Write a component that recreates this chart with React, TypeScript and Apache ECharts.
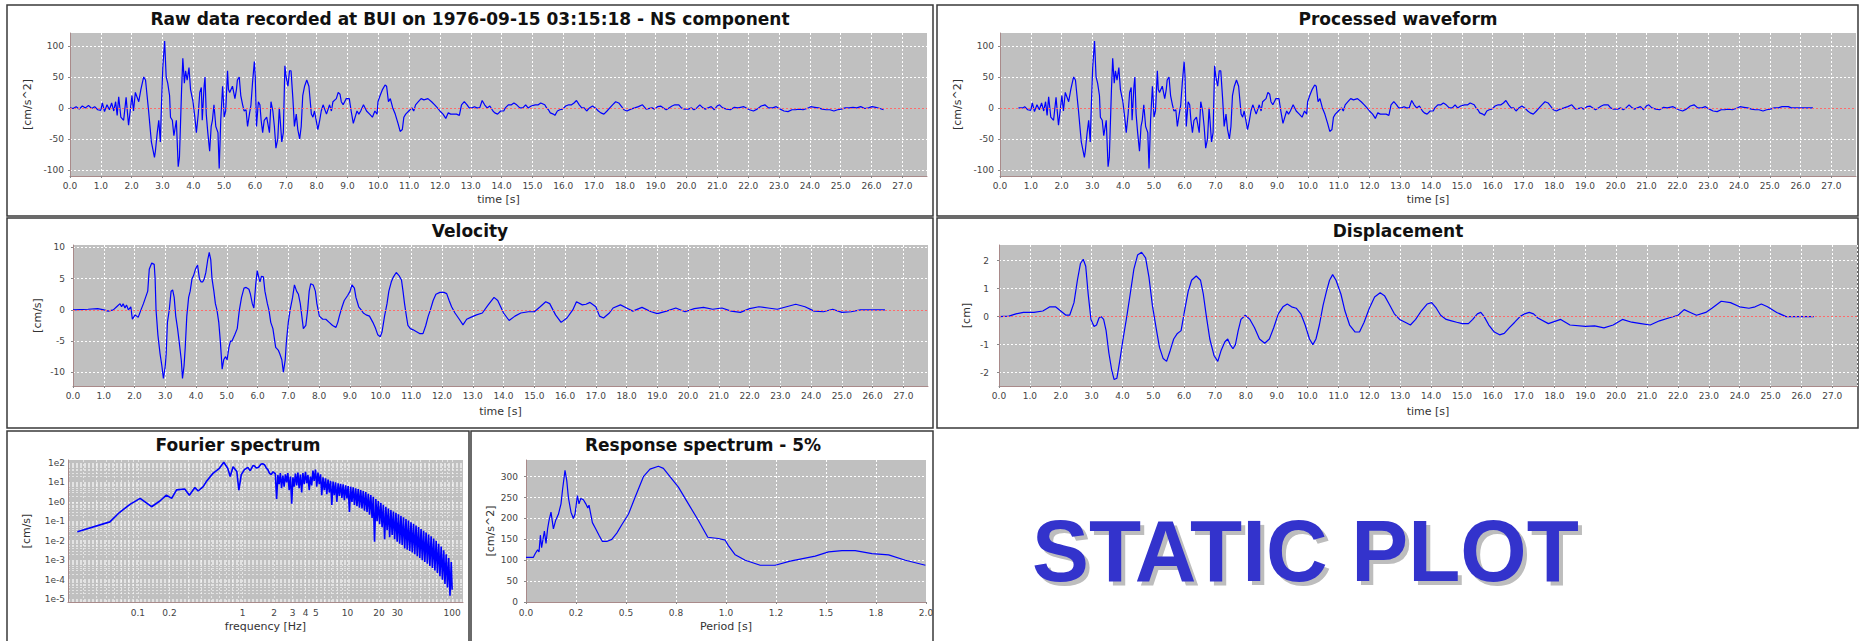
import React, { useEffect, useRef } from "react";
import * as echarts from "echarts";

// ---------------- DATA ----------------
const rawAccel: [number, number][] = [
  [0,0],[0.1,-1],[0.2,2],[0.3,-2],[0.4,3],[0.5,0],[0.6,4],[0.7,-1],[0.8,2],[0.9,-3],[1.0,-4],[1.05,8],[1.12,-6],[1.2,5],[1.28,-3],[1.35,8],[1.42,-5],[1.48,10],[1.53,-12],[1.58,18],[1.65,-15],[1.74,-20],[1.82,17],[1.9,-28],[2.01,20],[2.06,-5],[2.12,25],[2.23,10],[2.3,30],[2.39,50],[2.45,45],[2.5,20],[2.55,-5],[2.64,-55],[2.74,-80],[2.77,-70],[2.83,-40],[2.88,-20],[2.93,-55],[2.97,10],[3.01,65],[3.07,108],[3.12,50],[3.17,40],[3.23,20],[3.26,-15],[3.32,-20],[3.37,-45],[3.45,-20],[3.51,-95],[3.55,-80],[3.62,30],[3.66,80],[3.71,40],[3.75,60],[3.8,45],[3.86,65],[3.91,30],[3.99,10],[4.05,-15],[4.1,-40],[4.16,-10],[4.21,25],[4.26,33],[4.29,-20],[4.35,35],[4.38,50],[4.42,-10],[4.47,-40],[4.53,-70],[4.58,-30],[4.62,-20],[4.67,5],[4.73,-30],[4.8,-40],[4.84,-98],[4.89,-20],[4.95,35],[4.98,10],[5.0,-15],[5.05,-5],[5.11,60],[5.14,30],[5.18,25],[5.27,35],[5.35,15],[5.4,30],[5.43,45],[5.49,50],[5.54,20],[5.6,5],[5.65,-5],[5.71,-3],[5.76,-30],[5.82,-10],[5.87,5],[5.92,40],[5.98,75],[6.01,50],[6.05,-30],[6.11,10],[6.16,5],[6.2,-20],[6.25,-40],[6.3,-20],[6.38,-15],[6.47,-40],[6.52,10],[6.58,-5],[6.63,-30],[6.68,-65],[6.74,-50],[6.79,0],[6.82,-20],[6.87,-55],[6.92,-40],[6.97,68],[7.01,50],[7.07,35],[7.12,60],[7.17,60],[7.23,15],[7.28,-30],[7.34,-10],[7.39,-35],[7.45,-50],[7.5,-30],[7.55,20],[7.61,35],[7.68,45],[7.75,35],[7.83,-10],[7.88,-15],[7.93,-5],[8.04,-35],[8.1,-20],[8.15,-5],[8.21,5],[8.32,-10],[8.42,5],[8.48,-5],[8.53,10],[8.64,15],[8.7,25],[8.76,22],[8.8,10],[8.86,5],[8.91,10],[8.96,15],[9.06,15],[9.12,-5],[9.19,-25],[9.25,-15],[9.31,-5],[9.37,-10],[9.43,-5],[9.52,5],[9.62,-5],[9.72,-10],[9.81,-15],[9.89,-5],[9.96,-10],[9.99,10],[10.06,20],[10.14,30],[10.22,37],[10.27,35],[10.33,10],[10.39,15],[10.47,0],[10.55,-10],[10.64,-25],[10.71,-38],[10.78,-35],[10.83,-15],[10.89,-10],[10.99,-5],[11.09,0],[11.15,-5],[11.21,5],[11.3,10],[11.39,15],[11.48,13],[11.61,15],[11.73,10],[11.83,5],[11.92,0],[12.0,-5],[12.1,-10],[12.19,-17],[12.27,-8],[12.35,-10],[12.45,-10],[12.54,-10],[12.63,-12],[12.7,5],[12.79,10],[12.88,5],[12.95,0],[13.04,0],[13.12,2],[13.2,0],[13.29,0],[13.37,12],[13.45,5],[13.53,0],[13.62,3],[13.72,-5],[13.78,-8],[13.87,-10],[13.97,-5],[14.07,-5],[14.12,0],[14.22,5],[14.32,5],[14.4,8],[14.49,5],[14.59,0],[14.69,0],[14.78,5],[14.86,0],[14.96,3],[15.09,5],[15.19,5],[15.27,8],[15.4,5],[15.46,0],[15.52,-3],[15.58,-8],[15.68,-10],[15.73,-12],[15.81,-5],[15.89,-3],[15.98,-2],[16.08,3],[16.18,5],[16.27,5],[16.35,8],[16.43,12],[16.52,5],[16.6,0],[16.68,0],[16.76,-5],[16.85,0],[16.95,3],[17.04,0],[17.14,-5],[17.22,-8],[17.32,-10],[17.42,-5],[17.51,0],[17.6,5],[17.7,10],[17.8,8],[17.88,3],[17.97,-3],[18.07,-5],[18.19,-2],[18.32,0],[18.44,2],[18.57,5],[18.69,-2],[18.88,0],[18.96,-2],[19.06,2],[19.16,3],[19.25,0],[19.34,-3],[19.43,0],[19.53,3],[19.62,5],[19.75,5],[19.83,0],[19.93,-2],[20.06,-2],[20.16,0],[20.24,-3],[20.33,0],[20.43,5],[20.53,0],[20.61,-2],[20.7,0],[20.8,2],[20.9,-3],[20.99,3],[21.07,5],[21.17,0],[21.3,-2],[21.42,-3],[21.55,1],[21.67,0],[21.86,2],[22.04,-3],[22.17,-5],[22.29,-2],[22.42,3],[22.54,5],[22.66,0],[22.79,0],[22.91,2],[23.04,-2],[23.16,-5],[23.29,-6],[23.42,-3],[23.53,-3],[23.66,-2],[23.78,-3],[23.91,-1],[24.03,2],[24.16,1],[24.28,0],[24.4,-2],[24.53,-3],[24.65,-3],[24.78,-5],[24.9,-3],[25.02,-2],[25.15,0],[25.27,0],[25.4,1],[25.52,0],[25.65,2],[25.78,-1],[25.9,0],[26.02,2],[26.14,1],[26.27,-1],[26.39,-3]
];

// processed record: same samples, with the quiet head and tail set to zero
const processedHead: [number, number][] = [[0.6,0],[0.75,0]];
const processedTail: [number, number][] = [[25.4,2],[25.6,2],[25.7,0],[26.4,0]];

const velocity: [number, number][] = [
  [0,0],[0.49,0.1],[0.8,0.2],[1.01,0],[1.14,-0.2],[1.31,0],[1.42,0.5],[1.53,1.0],[1.58,0.5],[1.63,1.0],[1.69,0.3],[1.74,0.8],[1.8,0],[1.88,0.5],[1.93,-1.5],[2.02,-0.8],[2.12,-1.2],[2.21,0],[2.29,1],[2.36,2],[2.43,3],[2.48,6.5],[2.56,7.5],[2.64,7.3],[2.67,5],[2.7,0],[2.76,-4],[2.83,-7],[2.89,-9],[2.94,-11],[3.0,-9],[3.03,-7],[3.07,-2],[3.13,0],[3.19,3],[3.24,3.2],[3.29,2],[3.34,-1],[3.4,-3],[3.45,-5],[3.52,-8],[3.56,-11],[3.61,-9],[3.65,-6],[3.7,-1],[3.76,2],[3.81,3],[3.87,5],[3.92,5.5],[3.98,6.5],[4.05,7.2],[4.11,5],[4.16,4.5],[4.22,4.5],[4.27,5],[4.32,6],[4.38,8],[4.43,9.2],[4.48,8],[4.52,5],[4.58,3],[4.63,1],[4.68,0],[4.74,-2],[4.79,-5],[4.85,-9.5],[4.9,-8],[4.96,-7.5],[5.01,-8],[5.07,-6],[5.12,-5],[5.17,-5],[5.26,-4],[5.34,-3],[5.41,0],[5.48,2],[5.56,3.5],[5.63,3.6],[5.72,3.3],[5.77,2.5],[5.83,1],[5.88,0.3],[5.94,4],[5.99,6.3],[6.05,5],[6.08,4.5],[6.13,5.4],[6.19,5.3],[6.24,3],[6.32,1],[6.37,0],[6.43,-2],[6.5,-3],[6.59,-6],[6.68,-6.5],[6.72,-7],[6.79,-8],[6.84,-10],[6.9,-8],[6.94,-5],[7.0,-2],[7.06,0],[7.14,2],[7.2,4],[7.27,3],[7.33,2.5],[7.39,1],[7.44,-1],[7.49,-3],[7.57,-2.5],[7.63,0],[7.68,3],[7.73,4.2],[7.81,4],[7.88,3],[7.93,1],[8.01,-1],[8.12,-1.5],[8.22,-1.5],[8.33,-2],[8.44,-2.5],[8.55,-2.8],[8.61,-2],[8.66,-1],[8.75,0.5],[8.82,1.5],[8.93,2.3],[9.01,3],[9.07,4],[9.15,3.5],[9.2,2],[9.29,0.5],[9.37,0],[9.44,-0.5],[9.53,-0.8],[9.64,-1],[9.75,-2],[9.84,-3],[9.91,-4],[9.99,-4.3],[10.05,-3.5],[10.13,-1],[10.21,1],[10.27,3],[10.35,4.5],[10.42,5.3],[10.51,6],[10.6,5.5],[10.68,4.8],[10.73,3],[10.78,1],[10.84,-1],[10.89,-2.5],[10.97,-3],[11.06,-3.2],[11.17,-3.5],[11.27,-3.8],[11.38,-3.8],[11.47,-2.5],[11.55,-1],[11.62,0],[11.71,1.5],[11.8,2.5],[11.93,2.8],[12.06,2.8],[12.15,2.6],[12.23,1.5],[12.31,0.5],[12.42,-0.5],[12.56,-1.5],[12.68,-2.4],[12.8,-1.5],[12.93,-1.2],[13.12,-0.8],[13.31,-0.5],[13.5,0.8],[13.69,2.0],[13.81,1.5],[14.0,-0.5],[14.18,-1.7],[14.37,-1.0],[14.56,-0.5],[14.81,-0.3],[15.0,-0.3],[15.19,0.5],[15.37,1.3],[15.5,1.0],[15.69,-0.8],[15.87,-2.0],[16.06,-1.3],[16.25,0],[16.37,1.3],[16.56,0.8],[16.68,0.9],[16.81,1.2],[17.0,0.5],[17.12,-1.0],[17.25,-1.3],[17.44,-0.5],[17.56,0.3],[17.8,0.8],[18.0,0.3],[18.2,-0.2],[18.5,0.4],[18.8,-0.3],[19.0,-0.6],[19.3,-0.2],[19.6,0.3],[19.9,-0.3],[20.2,0.2],[20.5,0.4],[20.8,0.1],[21.1,0.3],[21.4,-0.2],[21.7,-0.4],[22.0,0.2],[22.3,0.5],[22.6,0.3],[22.9,0.1],[23.2,0.5],[23.5,0.9],[23.8,0.5],[24.1,-0.2],[24.4,-0.3],[24.7,0.1],[25.0,-0.4],[25.3,-0.3],[25.6,0],[26.0,0],[26.4,0]
];

const displacement: [number, number][] = [
  [0,0],[0.32,0.02],[0.55,0.1],[0.79,0.15],[1.13,0.15],[1.42,0.2],[1.65,0.35],[1.83,0.35],[2.0,0.2],[2.17,0.05],[2.29,0.05],[2.43,0.5],[2.54,1.3],[2.64,1.9],[2.73,2.05],[2.81,1.8],[2.89,0.8],[2.98,-0.1],[3.08,-0.35],[3.16,-0.3],[3.24,-0.05],[3.31,0],[3.39,-0.1],[3.47,-0.5],[3.56,-1.3],[3.65,-1.9],[3.73,-2.25],[3.82,-2.2],[3.91,-1.6],[4.02,-0.8],[4.14,0],[4.25,0.8],[4.37,1.7],[4.49,2.2],[4.62,2.3],[4.75,2.1],[4.86,1.4],[4.97,0.4],[5.09,-0.4],[5.2,-1.1],[5.32,-1.5],[5.43,-1.6],[5.55,-1.2],[5.66,-0.8],[5.78,-0.6],[5.9,-0.5],[6.01,0.2],[6.13,0.9],[6.24,1.3],[6.39,1.45],[6.53,1.3],[6.62,0.8],[6.72,0],[6.83,-0.8],[6.97,-1.4],[7.09,-1.6],[7.2,-1.2],[7.32,-0.9],[7.41,-0.8],[7.49,-1.0],[7.58,-1.15],[7.66,-1.0],[7.75,-0.5],[7.84,-0.1],[7.98,0.05],[8.13,-0.1],[8.28,-0.4],[8.44,-0.8],[8.61,-0.95],[8.76,-0.8],[8.9,-0.4],[9.05,0.1],[9.2,0.35],[9.34,0.45],[9.48,0.35],[9.63,0.3],[9.78,0.1],[9.92,-0.3],[10.06,-0.8],[10.17,-1.0],[10.27,-0.8],[10.38,-0.3],[10.5,0.4],[10.61,0.9],[10.71,1.3],[10.81,1.5],[10.92,1.3],[11.08,0.8],[11.21,0.2],[11.36,-0.3],[11.54,-0.55],[11.68,-0.55],[11.83,-0.2],[12.0,0.3],[12.17,0.7],[12.35,0.85],[12.49,0.75],[12.64,0.45],[12.81,0.1],[12.98,-0.1],[13.16,-0.2],[13.33,-0.3],[13.5,-0.1],[13.68,0.2],[13.87,0.45],[14.02,0.5],[14.17,0.3],[14.31,0.05],[14.49,-0.1],[14.66,-0.15],[14.83,-0.2],[15.01,-0.25],[15.21,-0.25],[15.35,-0.1],[15.5,0.1],[15.61,0.15],[15.72,0],[15.87,-0.3],[16.05,-0.55],[16.22,-0.65],[16.37,-0.6],[16.53,-0.4],[16.71,-0.2],[16.88,0],[17.03,0.1],[17.18,0.15],[17.32,0.1],[17.46,-0.05],[17.8,-0.25],[18.2,-0.1],[18.5,-0.3],[19.0,-0.35],[19.3,-0.33],[19.6,-0.4],[19.9,-0.3],[20.2,-0.1],[20.5,-0.2],[20.8,-0.25],[21.1,-0.3],[21.4,-0.15],[21.7,-0.05],[22.0,0.05],[22.2,0.25],[22.4,0.15],[22.6,0.05],[22.9,0.15],[23.1,0.3],[23.4,0.55],[23.7,0.5],[24.0,0.35],[24.3,0.3],[24.5,0.35],[24.7,0.45],[24.9,0.35],[25.2,0.15],[25.5,0],[25.8,0],[26.4,0]
];

// Fourier amplitude spectrum: [frequency Hz, amplitude cm/s]
const fourier: [number, number][] = [
  [0.0264,0.029],[0.054,0.093],[0.067,0.29],[0.084,0.74],[0.105,1.5],[0.135,0.56],[0.162,1.1],[0.187,2.2],[0.21,1.5],[0.234,4.1],[0.28,4.6],[0.31,2.2],[0.35,5.4],[0.376,3.6],[0.42,6],[0.45,11],[0.52,29],[0.6,53],[0.66,109],[0.72,53],[0.76,20],[0.81,63],[0.88,36],[0.92,4],[0.97,25],[1.04,45],[1.12,59],[1.18,40],[1.26,74],[1.3,70],[1.35,54],[1.42,60],[1.5,87],[1.55,90],[1.62,80],[1.68,55],[1.74,45],[1.8,30],[1.87,25],[1.95,35],[2.02,30],
  [2.05,28],[2.11,1.4],[2.17,24],[2.23,8],[2.29,30],[2.35,5],[2.42,22],[2.49,6],[2.56,26],[2.63,10],[2.7,30],[2.78,4],[2.86,20],[2.94,0.8],[3.02,18],[3.1,6],[3.19,28],[3.28,7],[3.37,32],[3.46,5],[3.56,25],[3.66,3],[3.76,30],[3.87,8],[3.98,35],[4.09,9],[4.2,24],[4.32,4],[4.44,20],[4.56,7],[4.69,40],[4.82,12],[4.96,45],[5.1,6],[5.24,32],[5.39,8],[5.54,26],[5.69,2.2],[5.85,18],[6.02,4],[6.19,16],[6.36,2.5],[6.54,14],[6.72,3],[6.91,12],[7.1,0.7],[7.3,11],[7.51,2.2],[7.72,10],[7.93,1.0],[8.16,9],[8.38,2],[8.62,8.5],[8.86,1.6],[9.11,8],[9.36,1.2],[9.63,7],[9.9,1.5],[10.17,6.5],[10.46,0.3],[10.75,6],[11.05,1.0],[11.36,5.5],[11.68,0.7],[12.01,5],[12.34,0.6],[12.69,4.5],[13.05,0.5],[13.41,4],[13.79,0.45],[14.17,3.6],[14.57,0.35],[14.98,3.2],[15.4,0.3],[15.83,2.6],[16.27,0.22],[16.73,2.2],[17.2,0.15],[17.68,1.8],[18.17,0.009],[18.68,1.4],[19.21,0.1],[19.74,1.1],[20.3,0.07],[20.87,0.9],[21.45,0.05],[22.05,0.7],[22.67,0.012],[23.3,0.55],[23.96,0.035],[24.63,0.45],[25.32,0.015],[26.03,0.38],[26.76,0.02],[27.5,0.32],[28.27,0.012],[29.07,0.27],[29.88,0.009],[30.72,0.23],[31.58,0.007],[32.46,0.19],[33.37,0.006],[34.31,0.16],[35.27,0.004],[36.26,0.13],[37.27,0.0035],[38.32,0.11],[39.39,0.003],[40.5,0.09],[41.63,0.0025],[42.8,0.075],[44.0,0.002],[45.23,0.06],[46.5,0.0016],[47.8,0.05],[49.14,0.0013],[50.52,0.04],[51.94,0.001],[53.39,0.032],[54.89,0.0008],[56.43,0.026],[58.01,0.00065],[59.64,0.021],[61.31,0.0005],[63.03,0.017],[64.79,0.0004],[66.61,0.013],[68.48,0.0003],[70.4,0.01],[72.37,0.00022],[74.4,0.007],[76.48,0.00015],[78.63,0.005],[80.83,0.0001],[83.1,0.0032],[85.42,0.00006],[87.82,0.002],[90.28,0.00004],[92.81,0.0013],[95.41,0.000015],[98.08,0.0008],[100,0.00003]
];

// Response spectrum 5%: [period s, Sa cm/s^2]
const response: [number, number][] = [
  [0,107],[0.037,107],[0.045,115],[0.058,125],[0.065,120],[0.072,160],[0.078,130],[0.092,170],[0.1,140],[0.108,175],[0.115,195],[0.125,215],[0.137,175],[0.148,195],[0.162,210],[0.175,235],[0.183,270],[0.195,315],[0.204,290],[0.212,250],[0.225,215],[0.237,200],[0.245,210],[0.257,255],[0.265,235],[0.274,248],[0.287,245],[0.299,235],[0.309,225],[0.315,232],[0.324,210],[0.332,190],[0.349,175],[0.365,160],[0.382,145],[0.404,145],[0.429,150],[0.454,165],[0.479,185],[0.512,210],[0.545,250],[0.587,300],[0.62,318],[0.662,325],[0.687,320],[0.72,300],[0.762,275],[0.812,235],[0.862,195],[0.909,155],[0.962,152],[0.996,148],[1.012,135],[1.046,113],[1.096,100],[1.171,88],[1.246,88],[1.321,98],[1.446,110],[1.513,120],[1.58,123],[1.646,123],[1.73,116],[1.813,113],[1.897,100],[1.997,88]
];

const accelTicks = [-100, -50, 0, 50, 100];
const velocityTicks = [-10, -5, 0, 5, 10];
const displacementTicks = [-2, -1, 0, 1, 2];
const fourierFreqLabels = [0.1, 0.2, 1, 2, 3, 4, 5, 10, 20, 30, 100];
const fourierExpLabels = [-5, -4, -3, -2, -1, 0, 1, 2];
const responsePeriodLabels = ["0.0", "0.2", "0.5", "0.8", "1.0", "1.2", "1.5", "1.8", "2.0"];
const responseSaTicks = [0, 50, 100, 150, 200, 250, 300];

const panelTitles = [
  "Raw data recorded at BUI on 1976-09-15 03:15:18 - NS component",
  "Processed waveform",
  "Velocity",
  "Displacement",
  "Fourier spectrum",
  "Response spectrum - 5%",
];

// ---------------- STYLE / LAYOUT ----------------
const FONT = "'DejaVu Sans', Verdana, sans-serif";
const PLOT_BG = "#c0c0c0";
const LINE_BLUE = "#0000ff";
const AXIS_COLOR = "#a98a8a";
const LABEL_COLOR = "#444";
const GRID_LINE = { color: "#ffffff", type: [2, 2] as number[], width: 1 };
const LOG_GRID_LINE = { color: "rgba(255,255,255,0.55)", type: [2, 2] as number[], width: 1 };

const grids = [
  { left: 70, top: 33, width: 857, height: 143 },
  { left: 1000, top: 33, width: 856, height: 143 },
  { left: 73, top: 245, width: 855, height: 141 },
  { left: 999, top: 245, width: 858, height: 141 },
  { left: 68, top: 460, width: 395, height: 142 },
  { left: 526, top: 460, width: 400, height: 142 },
];

const panels = [
  { x: 7, y: 5, w: 926, h: 211 },
  { x: 937, y: 5, w: 921, h: 211 },
  { x: 7, y: 218, w: 926, h: 210 },
  { x: 937, y: 218, w: 921, h: 210 },
  { x: 7, y: 431, w: 462, h: 215 },
  { x: 471, y: 431, w: 462, h: 215 },
];

const titlePos = [
  { x: 470, y: 19 }, { x: 1398, y: 19 },
  { x: 470, y: 231 }, { x: 1398, y: 231 },
  { x: 238, y: 445 }, { x: 703, y: 445 },
];

function timeXAxis(gi: number, nameGap: number) {
  return {
    type: "value", gridIndex: gi, min: 0, max: 27.8, interval: 1,
    name: "time [s]", nameLocation: "middle", nameGap,
    nameTextStyle: { fontFamily: FONT, fontSize: 11, color: "#333" },
    axisLine: { show: true, onZero: false, lineStyle: { color: AXIS_COLOR } },
    axisTick: { show: true, length: 2, lineStyle: { color: "#888" } },
    axisLabel: {
      fontFamily: FONT, fontSize: 9, color: LABEL_COLOR, margin: 5,
      showMaxLabel: false, showMinLabel: true,
      formatter: (v: number) => v.toFixed(1),
    },
    splitLine: { show: true, lineStyle: GRID_LINE },
  };
}

function valueYAxis(gi: number, min: number, max: number, ticks: number[], name: string, nameGap: number, margin: number) {
  return {
    type: "value", gridIndex: gi, min, max,
    name, nameLocation: "middle", nameGap,
    nameTextStyle: { fontFamily: FONT, fontSize: 11, color: "#333" },
    axisLine: { show: true, onZero: false, lineStyle: { color: AXIS_COLOR } },
    axisTick: { show: true, length: 2, customValues: ticks, lineStyle: { color: "#888" } },
    axisLabel: { fontFamily: FONT, fontSize: 9, color: LABEL_COLOR, margin, customValues: ticks },
    splitLine: { show: true, lineStyle: GRID_LINE },
  };
}

function lineSeries(gi: number, data: [number, number][], zeroLine: boolean, width = 1.2) {
  const s: any = {
    type: "line", xAxisIndex: gi, yAxisIndex: gi, data,
    showSymbol: false, symbol: "none", silent: true,
    lineStyle: { color: LINE_BLUE, width }, z: 3,
  };
  if (zeroLine) {
    s.markLine = {
      silent: true, symbol: "none", label: { show: false },
      lineStyle: { color: "#ff6a6a", type: [2, 2], width: 1 },
      data: [{ yAxis: 0 }],
    };
  }
  return s;
}

function buildOption() {
  const processed: [number, number][] = [
    ...processedHead,
    ...rawAccel.filter((p) => p[0] >= 0.8 && p[0] <= 25.3),
    ...processedTail,
  ];

  const decadeSteps = [1, 2, 3, 4, 5, 6, 7, 8, 9];
  const logGrid = (lo: number, hi: number) => {
    const out: number[] = [];
    for (let e = lo; e <= hi; e++) for (const k of decadeSteps) out.push(e + Math.log10(k));
    return out;
  };
  const fourierPlot = fourier.map(([f, a]) => [Math.log10(f), Math.log10(a)]);

  const xAxes: any[] = [
    timeXAxis(0, 18),
    timeXAxis(1, 18),
    timeXAxis(2, 20),
    timeXAxis(3, 20),
    {
      type: "value", gridIndex: 4, min: Math.log10(0.0215), max: Math.log10(127),
      name: "frequency [Hz]", nameLocation: "middle", nameGap: 19,
      nameTextStyle: { fontFamily: FONT, fontSize: 11, color: "#333" },
      axisLine: { show: true, onZero: false, lineStyle: { color: AXIS_COLOR } },
      axisTick: { show: false, customValues: logGrid(-2, 2) },
      axisLabel: {
        fontFamily: FONT, fontSize: 9, color: LABEL_COLOR, margin: 6,
        customValues: fourierFreqLabels.map((f) => Math.log10(f)),
        formatter: (v: number) => {
          const f = Math.pow(10, v);
          return f < 1 ? f.toFixed(1) : String(Math.round(f));
        },
      },
      splitLine: { show: true, lineStyle: LOG_GRID_LINE },
    },
    {
      type: "value", gridIndex: 5, min: 0, max: 2, interval: 0.25,
      name: "Period [s]", nameLocation: "middle", nameGap: 19,
      nameTextStyle: { fontFamily: FONT, fontSize: 11, color: "#333" },
      axisLine: { show: true, onZero: false, lineStyle: { color: AXIS_COLOR } },
      axisTick: { show: true, length: 2, lineStyle: { color: "#888" } },
      axisLabel: {
        fontFamily: FONT, fontSize: 9, color: LABEL_COLOR, margin: 6,
        formatter: (v: number) => responsePeriodLabels[Math.round(v / 0.25)] ?? "",
      },
      splitLine: { show: true, lineStyle: GRID_LINE },
    },
  ];

  const yAxes: any[] = [
    valueYAxis(0, -110, 121, accelTicks, "[cm/s^2]", 37, 6),
    valueYAxis(1, -110, 121, accelTicks, "[cm/s^2]", 37, 6),
    valueYAxis(2, -12.2, 10.4, velocityTicks, "[cm/s]", 30, 8),
    valueYAxis(3, -2.48, 2.56, displacementTicks, "[cm]", 27, 10),
    {
      type: "value", gridIndex: 4, min: -5.15, max: 2.15,
      name: "[cm/s]", nameLocation: "middle", nameGap: 36,
      nameTextStyle: { fontFamily: FONT, fontSize: 11, color: "#333" },
      axisLine: { show: true, onZero: false, lineStyle: { color: AXIS_COLOR } },
      axisTick: { show: false, customValues: logGrid(-6, 2) },
      axisLabel: {
        fontFamily: FONT, fontSize: 9, color: LABEL_COLOR, margin: 3,
        customValues: fourierExpLabels,
        formatter: (v: number) => "1e" + Math.round(v),
      },
      splitLine: { show: true, lineStyle: LOG_GRID_LINE },
    },
    valueYAxis(5, 0, 340, responseSaTicks, "[cm/s^2]", 30, 8),
  ];

  const graphic: any[] = [];
  panels.forEach((p) => {
    graphic.push({
      type: "rect", silent: true, z: 0,
      shape: { x: p.x, y: p.y, width: p.w, height: p.h },
      style: { fill: "none", stroke: "#3a3a3a", lineWidth: 1.5 },
    });
  });
  panelTitles.forEach((t, i) => {
    graphic.push({
      type: "text", silent: true, x: titlePos[i].x, y: titlePos[i].y,
      style: {
        text: t, font: `bold 17px ${FONT}`, fill: "#111",
        align: "center", verticalAlign: "middle",
        textAlign: "center", textVerticalAlign: "middle",
      },
    });
  });
  const staticFont = "bold 88px 'Liberation Sans', Arial, sans-serif";
  graphic.push({
    type: "text", silent: true, x: 1036, y: 555, scaleX: 0.97,
    style: { text: "STATIC PLOT", font: staticFont, fill: "#bdbdbd", align: "left", verticalAlign: "middle", textAlign: "left", textVerticalAlign: "middle" },
  });
  graphic.push({
    type: "text", silent: true, x: 1032, y: 551, scaleX: 0.97,
    style: { text: "STATIC PLOT", font: staticFont, fill: "#3333cc", align: "left", verticalAlign: "middle", textAlign: "left", textVerticalAlign: "middle" },
  });

  return {
    animation: false,
    backgroundColor: "#ffffff",
    grid: grids.map((g) => ({ ...g, show: true, backgroundColor: PLOT_BG, borderWidth: 0, containLabel: false })),
    xAxis: xAxes,
    yAxis: yAxes,
    series: [
      lineSeries(0, rawAccel, true),
      lineSeries(1, processed, true),
      lineSeries(2, velocity, true),
      lineSeries(3, displacement, true),
      lineSeries(4, fourierPlot as any, false, 1.6),
      lineSeries(5, response, false),
    ],
    graphic,
  };
}

export default function App() {
  const ref = useRef<HTMLDivElement>(null);
  useEffect(() => {
    if (!ref.current) return;
    const chart = echarts.init(ref.current, null, { renderer: "svg", width: 1861, height: 641 });
    chart.setOption(buildOption() as any);
    return () => chart.dispose();
  }, []);
  return (
    <div
      ref={ref}
      style={{ position: "absolute", left: 0, top: 0, width: 1861, height: 641, background: "#fff" }}
    />
  );
}
